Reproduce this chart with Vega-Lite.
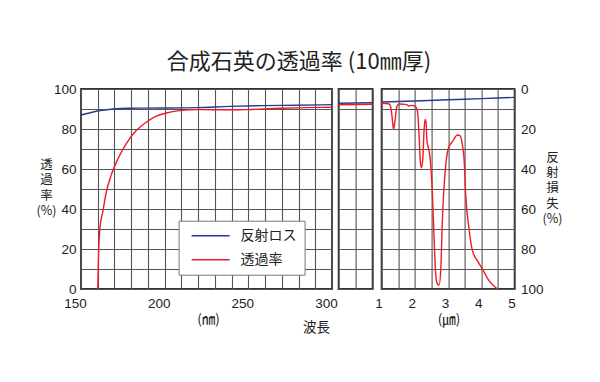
{
  "$schema": "https://vega.github.io/schema/vega-lite/v6.json",
  "background": "white",
  "padding": {"left": 35, "top": 51, "right": 5, "bottom": 5},
  "title": {"text": "合成石英の透過率 (10㎜厚)", "font": "Noto Sans CJK JP", "fontSize": 22, "fontWeight": "normal", "color": "#222222", "offset": 7, "anchor": "middle"},
  "config": {
    "font": "Liberation Sans",
    "view": {"stroke": "#333333", "strokeWidth": 1.8},
    "axis": {"grid": true, "gridColor": "#555555", "gridWidth": 1.1, "gridOpacity": 1, "domain": false, "ticks": false, "tickSize": 0, "labelFont": "Liberation Sans", "labelFontSize": 13.5, "labelColor": "#222222", "titleFont": "Noto Sans CJK JP", "titleFontWeight": "normal", "titleFontSize": 13.5, "titleColor": "#222222"}
  },
  "datasets": {
    "uv": [
      {"series": "反射ロス", "x": 150, "t": 87.0},
      {"series": "反射ロス", "x": 155, "t": 88.0},
      {"series": "反射ロス", "x": 159, "t": 88.9},
      {"series": "反射ロス", "x": 164, "t": 89.5},
      {"series": "反射ロス", "x": 169, "t": 90.0},
      {"series": "反射ロス", "x": 179, "t": 90.4},
      {"series": "反射ロス", "x": 199, "t": 90.5},
      {"series": "反射ロス", "x": 219, "t": 90.7},
      {"series": "反射ロス", "x": 239, "t": 91.3},
      {"series": "反射ロス", "x": 259, "t": 91.7},
      {"series": "反射ロス", "x": 279, "t": 91.9},
      {"series": "反射ロス", "x": 300, "t": 92.2},
      {"series": "透過率", "x": 160, "t": 0},
      {"series": "透過率", "x": 160.4, "t": 15},
      {"series": "透過率", "x": 161.4, "t": 31},
      {"series": "透過率", "x": 163, "t": 38.5},
      {"series": "透過率", "x": 165, "t": 48},
      {"series": "透過率", "x": 168, "t": 56.8},
      {"series": "透過率", "x": 172, "t": 65},
      {"series": "透過率", "x": 177, "t": 72.6},
      {"series": "透過率", "x": 183, "t": 79.2},
      {"series": "透過率", "x": 189, "t": 83.4},
      {"series": "透過率", "x": 195, "t": 86.4},
      {"series": "透過率", "x": 201, "t": 88.0},
      {"series": "透過率", "x": 209, "t": 89.2},
      {"series": "透過率", "x": 219, "t": 89.7},
      {"series": "透過率", "x": 239, "t": 89.6},
      {"series": "透過率", "x": 249, "t": 89.7},
      {"series": "透過率", "x": 269, "t": 90.4},
      {"series": "透過率", "x": 285, "t": 90.7},
      {"series": "透過率", "x": 300, "t": 90.9}
    ],
    "mid": [
      {"series": "反射ロス", "x": 0, "t": 92.9},
      {"series": "反射ロス", "x": 2, "t": 93.1},
      {"series": "透過率", "x": 0, "t": 92.1},
      {"series": "透過率", "x": 2, "t": 92.4}
    ],
    "ir": [
      {"series": "反射ロス", "x": 1, "t": 93.5},
      {"series": "反射ロス", "x": 2, "t": 94.0},
      {"series": "反射ロス", "x": 3, "t": 94.6},
      {"series": "反射ロス", "x": 4, "t": 95.2},
      {"series": "反射ロス", "x": 5, "t": 95.8},
      {"series": "透過率", "x": 1.0, "t": 93.0},
      {"series": "透過率", "x": 1.23, "t": 92.5},
      {"series": "透過率", "x": 1.28, "t": 90.5},
      {"series": "透過率", "x": 1.33, "t": 83.8},
      {"series": "透過率", "x": 1.36, "t": 79.8},
      {"series": "透過率", "x": 1.40, "t": 83.8},
      {"series": "透過率", "x": 1.46, "t": 91.3},
      {"series": "透過率", "x": 1.53, "t": 92.5},
      {"series": "透過率", "x": 1.73, "t": 92.3},
      {"series": "透過率", "x": 1.83, "t": 91.5},
      {"series": "透過率", "x": 1.91, "t": 91.8},
      {"series": "透過率", "x": 2.01, "t": 91.3},
      {"series": "透過率", "x": 2.08, "t": 88.8},
      {"series": "透過率", "x": 2.13, "t": 75.4},
      {"series": "透過率", "x": 2.17, "t": 62.8},
      {"series": "透過率", "x": 2.20, "t": 60.6},
      {"series": "透過率", "x": 2.24, "t": 65.3},
      {"series": "透過率", "x": 2.28, "t": 80.4},
      {"series": "透過率", "x": 2.31, "t": 84.8},
      {"series": "透過率", "x": 2.34, "t": 82.9},
      {"series": "透過率", "x": 2.36, "t": 74.5},
      {"series": "透過率", "x": 2.41, "t": 70.4},
      {"series": "透過率", "x": 2.46, "t": 65.3},
      {"series": "透過率", "x": 2.53, "t": 46.9},
      {"series": "透過率", "x": 2.58, "t": 25.1},
      {"series": "透過率", "x": 2.63, "t": 6.7},
      {"series": "透過率", "x": 2.68, "t": 2.5},
      {"series": "透過率", "x": 2.73, "t": 2.0},
      {"series": "透過率", "x": 2.78, "t": 10.0},
      {"series": "透過率", "x": 2.83, "t": 35.2},
      {"series": "透過率", "x": 2.93, "t": 62.0},
      {"series": "透過率", "x": 3.01, "t": 70.4},
      {"series": "透過率", "x": 3.13, "t": 73.7},
      {"series": "透過率", "x": 3.28, "t": 77.0},
      {"series": "透過率", "x": 3.36, "t": 76.7},
      {"series": "透過率", "x": 3.43, "t": 72.0},
      {"series": "透過率", "x": 3.48, "t": 65.3},
      {"series": "透過率", "x": 3.53, "t": 46.9},
      {"series": "透過率", "x": 3.63, "t": 30.0},
      {"series": "透過率", "x": 3.73, "t": 19.3},
      {"series": "透過率", "x": 3.88, "t": 14.2},
      {"series": "透過率", "x": 4.03, "t": 10.0},
      {"series": "透過率", "x": 4.23, "t": 4.2},
      {"series": "透過率", "x": 4.48, "t": 0}
    ]
  },
  "bounds": "flush",
  "spacing": 6.6,
  "resolve": {"scale": {"color": "independent"}, "legend": {"color": "independent"}},
  "hconcat": [
    {
      "width": 251,
      "height": 200,
      "data": {"name": "uv"},
      "mark": {"type": "line", "interpolate": "monotone", "strokeWidth": 1.4},
      "encoding": {
        "x": {"field": "x", "type": "quantitative", "scale": {"domain": [150, 300], "nice": false, "zero": false},
          "axis": {"values": [150,160,170,180,190,200,210,220,230,240,250,260,270,280,290,300], "labelExpr": "datum.value % 50 == 0 ? datum.label : ''", "labelOffset": -6, "labelPadding": 7, "labelFlush": false, "title": "(㎚)", "titleX": 127, "titleY": 30.5, "titleBaseline": "middle", "titleAlign": "center"}},
        "y": {"field": "t", "type": "quantitative", "scale": {"domain": [0, 100], "nice": false},
          "axis": {"values": [0,10,20,30,40,50,60,70,80,90,100], "labelExpr": "datum.value % 20 == 0 ? datum.label : ''", "labelPadding": 5, "labelFlush": false, "title": ["透","過","率","(%)"], "titleAngle": 0, "titleX": -35, "titleY": 75, "titleAlign": "center", "titleBaseline": "middle", "titleFontSize": 12.5, "titleLineHeight": 15.5}},
        "color": {"field": "series", "type": "nominal", "scale": {"domain": ["反射ロス", "透過率"], "range": ["#2b3990", "#ed1c24"]},
          "legend": {"orient": "none", "legendX": 97.6, "legendY": 131.7, "title": null, "symbolType": "stroke", "symbolSize": 1444, "symbolStrokeWidth": 1.4, "clipHeight": 14, "labelFont": "Noto Sans CJK JP", "labelFontSize": 14, "labelColor": "#222222", "labelOffset": 10, "padding": 8, "symbolOffset": 4, "rowPadding": 10, "strokeColor": "#777777", "fillColor": "white"}}
      }
    },
    {
      "spacing": 9,
      "bounds": "flush",
      "resolve": {"scale": {"color": "independent"}, "legend": {"color": "independent"}},
      "hconcat": [
        {
          "width": 34,
          "height": 200,
          "data": {"name": "mid"},
          "mark": {"type": "line", "strokeWidth": 1.4},
          "encoding": {
            "x": {"field": "x", "type": "quantitative", "scale": {"domain": [0, 2], "nice": false, "zero": false},
              "axis": {"values": [0, 1, 2], "labels": false, "title": "波長", "titleX": -22.6, "titleY": 38.5, "titleBaseline": "middle", "titleAlign": "center"}},
            "y": {"field": "t", "type": "quantitative", "scale": {"domain": [0, 100], "nice": false},
              "axis": {"values": [0,10,20,30,40,50,60,70,80,90,100], "labels": false, "title": null}},
            "color": {"field": "series", "type": "nominal", "scale": {"domain": ["反射ロス", "透過率"], "range": ["#2b3990", "#ed1c24"]}, "legend": null}
          }
        },
        {
          "width": 133,
          "height": 200,
          "data": {"name": "ir"},
          "mark": {"type": "line", "interpolate": "monotone", "strokeWidth": 1.4},
          "encoding": {
            "x": {"field": "x", "type": "quantitative", "scale": {"domain": [1, 5], "nice": false, "zero": false},
              "axis": {"values": [1,1.5,2,2.5,3,3.5,4,4.5,5], "labelExpr": "datum.value % 1 == 0 ? format(datum.value, 'd') : ''", "labelOffset": -3, "labelPadding": 7, "labelFlush": false, "title": "(㎛)", "titleX": 67, "titleY": 30.5, "titleBaseline": "middle", "titleAlign": "center"}},
            "y": {"field": "t", "type": "quantitative", "scale": {"domain": [0, 100], "nice": false},
              "axis": {"orient": "right", "values": [0,10,20,30,40,50,60,70,80,90,100], "labelExpr": "datum.value % 20 == 0 ? format(100 - datum.value, 'd') : ''", "labelPadding": 6, "labelFlush": false, "title": ["反","射","損","失","(%)"], "titleAngle": 0, "titleX": 37.3, "titleY": 68.5, "titleAlign": "center", "titleBaseline": "middle", "titleFontSize": 12.5, "titleLineHeight": 15.2}},
            "color": {"field": "series", "type": "nominal", "scale": {"domain": ["反射ロス", "透過率"], "range": ["#2b3990", "#ed1c24"]}, "legend": null}
          }
        }
      ]
    }
  ]
}
